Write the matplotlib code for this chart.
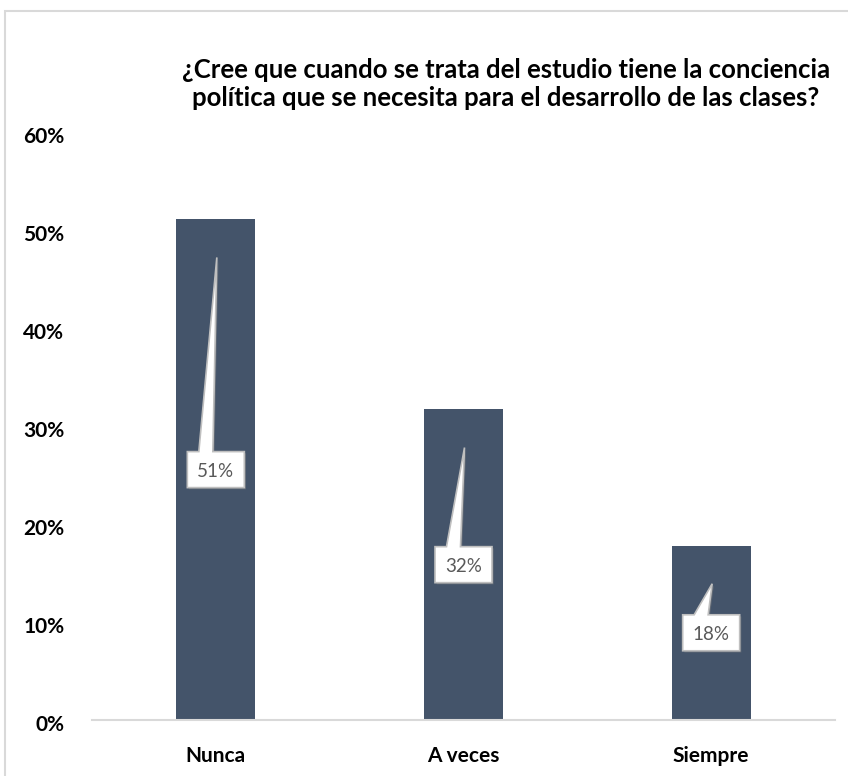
import matplotlib
matplotlib.use("Agg")
import matplotlib.pyplot as plt
from matplotlib.patches import Polygon, Rectangle
import matplotlib.patheffects as pe
import matplotlib.transforms as mtransforms

categories = ["Nunca", "A veces", "Siempre"]
values = [0.511, 0.317, 0.178]
labels = ["51%", "32%", "18%"]
yticks = [0.0, 0.1, 0.2, 0.3, 0.4, 0.5, 0.6]
ytick_labels = ["0%", "10%", "20%", "30%", "40%", "50%", "60%"]
title = "¿Cree que cuando se trata del estudio tiene la conciencia\npolítica que se necesita para el desarrollo de las clases?"

W, H = 848, 776
fig = plt.figure(figsize=(W / 100, H / 100), dpi=100)
fig.patch.set_facecolor("white")

# chart frame (light border)
fig.patches.append(Rectangle((5 / W, -0.1), 1.2, (H - 11) / H + 0.1, transform=fig.transFigure,
                             fill=False, edgecolor="#D9D9D9", linewidth=1.5))

ax = fig.add_axes([92 / W, (H - 720) / H, (835 - 92) / W, (720 - 132) / H])
font = "Lato"
bar_color = "#44546A"
x = list(range(len(categories)))
ax.bar(x, values, width=0.32, color=bar_color, zorder=2)
ax.set_xlim(-0.5, 2.5)
ax.set_ylim(0, 0.6)
for s in ["top", "right", "left"]:
    ax.spines[s].set_visible(False)
ax.spines["bottom"].set_color("#D9D9D9")
ax.spines["bottom"].set_linewidth(1.5)
ax.set_yticks(yticks)
ax.set_yticklabels(ytick_labels, fontfamily=font, fontweight="bold", fontsize=15, color="black")
ax.set_xticks(x)
ax.set_xticklabels(categories, fontfamily=font, fontweight="bold", fontsize=15, color="black")
ax.tick_params(axis="both", length=0)
ax.tick_params(axis="y", pad=20)
ax.tick_params(axis="x", pad=19)
off = mtransforms.ScaledTranslation(0, -3 / 100, fig.dpi_scale_trans)
for lab in ax.get_yticklabels():
    lab.set_transform(lab.get_transform() + off)

fig.text(506 / W, 1 - 84 / H, title, ha="center", va="center", fontfamily=font,
         fontweight="bold", fontsize=18.5, color="black", linespacing=1.25)

# callouts
fig.canvas.draw()
bw, bh = 57, 36
for xi, v, lab in zip(x, values, labels):
    cx, cy = ax.transData.transform((xi, v * 0.5))
    tx, ty = ax.transData.transform((xi, v - 0.039))
    l, r = cx - bw / 2, cx + bw / 2
    b, t = cy - bh / 2, cy + bh / 2
    pts = [(l, b), (r, b), (r, t), (cx - 3, t), (tx + 1, ty), (cx - 17, t), (l, t)]
    pts = [(px / W, py / H) for px, py in pts]
    poly = Polygon(pts, closed=True, facecolor="white", edgecolor="#BFBFBF", linewidth=1.2,
                   transform=fig.transFigure, zorder=5,
                   path_effects=[pe.SimplePatchShadow(offset=(1.2, -1.2), shadow_rgbFace="#7F7F7F", alpha=0.5), pe.Normal()])
    fig.patches.append(poly)
    fig.text(cx / W, (cy - 2) / H, lab, ha="center", va="center", fontfamily=font,
             fontsize=13.5, color="#595959", zorder=6)

fig.savefig("out.png", dpi=100, facecolor="white")
